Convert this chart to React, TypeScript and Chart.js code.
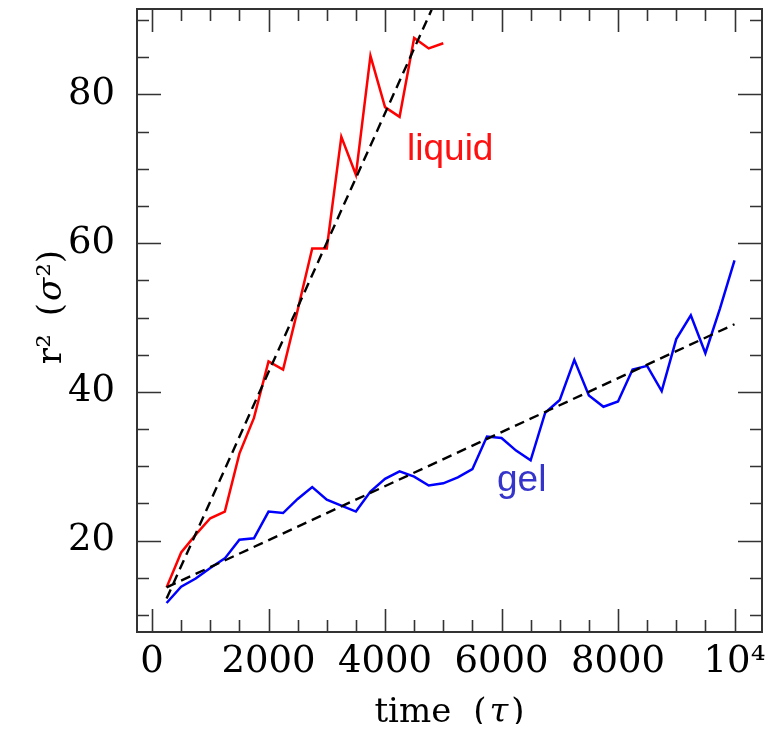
import React, { useEffect, useRef } from "react";
import { Chart, registerables } from "chart.js";

Chart.register(...registerables);

// ---- data ----
const liquidTime = [250, 500, 750, 1000, 1250, 1500, 1750, 2000, 2250, 2500, 2750, 3000, 3250, 3500, 3750, 4000, 4250, 4500, 4750, 5000];
const liquidR2 = [13.7, 18.4, 20.8, 23.0, 23.9, 31.7, 36.5, 44.1, 43.0, 51.0, 59.3, 59.3, 74.3, 69.2, 85.2, 78.3, 77.0, 87.6, 86.2, 86.9];

const gelTime = [250, 500, 750, 1000, 1250, 1500, 1750, 2000, 2250, 2500, 2750, 3000, 3250, 3500, 3750, 4000, 4250, 4500, 4750, 5000,
  5250, 5500, 5750, 6000, 6250, 6500, 6750, 7000, 7250, 7500, 7750, 8000, 8250, 8500, 8750, 9000, 9250, 9500, 9750, 10000];
const gelR2 = [11.6, 13.8, 14.9, 16.3, 17.6, 20.1, 20.3, 23.9, 23.7, 25.6, 27.2, 25.5, 24.7, 23.9, 26.6, 28.3, 29.3, 28.6, 27.4, 27.7,
  28.5, 29.6, 34.0, 33.8, 32.1, 30.8, 37.2, 38.9, 44.3, 39.5, 38.0, 38.7, 43.0, 43.5, 40.1, 47.1, 50.3, 45.2, 51.2, 57.7];

const liquidFitTime = [250, 4800];
const liquidFitR2 = [12.2, 91.4];
const gelFitTime = [250, 10000];
const gelFitR2 = [13.7, 49.1];

const xTickValues = [0, 2000, 4000, 6000, 8000, 10000];
const xTickLabels = ["0", "2000", "4000", "6000", "8000", "10\u2074"];
const yTickValues = [20, 40, 60, 80];
const yTickLabels = ["20", "40", "60", "80"];

const labelLiquid = { text: "liquid", t: 4378, r2: 71.2 };
const labelGel = { text: "gel", t: 5923, r2: 26.6 };

const X_MIN = -258;
const X_MAX = 10472;
const Y_MIN = 7.7;
const Y_MAX = 91.5;

const SERIF = "'DejaVu Serif', serif";
const SANS = "'Liberation Sans', Arial, sans-serif";

const pts = (xs: number[], ys: number[]) => xs.map((x, i) => ({ x, y: ys[i] }));

const zeroPad = (s: any) => {
  s.paddingTop = 0;
  s.paddingBottom = 0;
  s.paddingLeft = 0;
  s.paddingRight = 0;
};

const framePlugin = {
  id: "frameAndText",
  afterDatasetsDraw(chart: any) {
    const { ctx, chartArea, scales } = chart;
    const { left, right, top, bottom } = chartArea;
    const x = scales.x;
    const y = scales.y;
    ctx.save();
    ctx.strokeStyle = "#333";
    ctx.lineWidth = 1.6;
    ctx.beginPath();
    for (let v = 0; v <= 10000; v += 500) {
      const px = Math.round(x.getPixelForValue(v)) + 0.5;
      const len = v % 2000 === 0 ? 23 : 12;
      ctx.moveTo(px, bottom);
      ctx.lineTo(px, bottom - len);
      ctx.moveTo(px, top);
      ctx.lineTo(px, top + len);
    }
    for (let v = 10; v <= 90; v += 5) {
      const py = Math.round(y.getPixelForValue(v)) + 0.5;
      const len = v % 20 === 0 ? 24 : 12;
      ctx.moveTo(left, py);
      ctx.lineTo(left + len, py);
      ctx.moveTo(right, py);
      ctx.lineTo(right - len, py);
    }
    ctx.stroke();
    ctx.lineWidth = 2;
    ctx.strokeRect(left, top, right - left, bottom - top);

    // series labels
    ctx.font = `37px ${SANS}`;
    ctx.textAlign = "left";
    ctx.textBaseline = "alphabetic";
    ctx.fillStyle = "#ff1010";
    ctx.fillText(labelLiquid.text, x.getPixelForValue(labelLiquid.t), y.getPixelForValue(labelLiquid.r2));
    ctx.fillStyle = "#3535cc";
    ctx.fillText(labelGel.text, x.getPixelForValue(labelGel.t), y.getPixelForValue(labelGel.r2));
    ctx.restore();
  },
  afterDraw(chart: any) {
    const { ctx, chartArea } = chart;
    const { left, right, bottom } = chartArea;
    ctx.save();
    ctx.fillStyle = "#000";
    ctx.textBaseline = "alphabetic";
    ctx.textAlign = "left";
    // x title: time (τ)
    const up = `34px ${SERIF}`;
    const it = `italic 34px ${SERIF}`;
    const parts = [
      { s: "time", f: up, gap: 22 },
      { s: "(", f: up, gap: 3 },
      { s: "\u03C4", f: it, gap: 3 },
      { s: ")", f: up, gap: 0 },
    ];
    const widths = parts.map((p) => { ctx.font = p.f; return ctx.measureText(p.s).width; });
    const total = widths.reduce((a, b, i) => a + b + parts[i].gap, 0);
    let cx = (left + right) / 2 - total / 2;
    const by = bottom + 90;
    parts.forEach((p, i) => { ctx.font = p.f; ctx.fillText(p.s, cx, by); cx += widths[i] + p.gap; });

    // y title: r² (σ²)
    const yparts = [
      { s: "r\u00B2", f: up, gap: 18 },
      { s: "(", f: up, gap: 2 },
      { s: "\u03C3", f: it, gap: 1 },
      { s: "\u00B2)", f: up, gap: 0 },
    ];
    const yw = yparts.map((p) => { ctx.font = p.f; return ctx.measureText(p.s).width; });
    const ytot = yw.reduce((a, b, i) => a + b + yparts[i].gap, 0);
    const centerY = 299;
    ctx.translate(53, centerY);
    ctx.rotate(-Math.PI / 2);
    let cy = -ytot / 2;
    yparts.forEach((p, i) => { ctx.font = p.f; ctx.fillText(p.s, cy, 0); cy += yw[i] + p.gap; });
    ctx.restore();
  },
};

export default function App() {
  const ref = useRef<HTMLCanvasElement | null>(null);
  useEffect(() => {
    if (!ref.current) return;
    const chart = new Chart(ref.current, {
      type: "line",
      data: {
        datasets: [
          { data: pts(liquidFitTime, liquidFitR2), borderColor: "#000", borderWidth: 2.4, borderDash: [10, 6], pointRadius: 0, fill: false },
          { data: pts(gelFitTime, gelFitR2), borderColor: "#000", borderWidth: 2.4, borderDash: [10, 6], pointRadius: 0, fill: false },
          { data: pts(liquidTime, liquidR2), borderColor: "#ff0000", borderWidth: 2.5, pointRadius: 0, fill: false },
          { data: pts(gelTime, gelR2), borderColor: "#0000ff", borderWidth: 2.5, pointRadius: 0, fill: false },
        ],
      },
      options: {
        animation: false,
        responsive: false,
        events: [],
        layout: { padding: { left: 0, right: 3, top: 1, bottom: 0 } },
        plugins: { legend: { display: false }, tooltip: { enabled: false } },
        elements: { line: { tension: 0 } },
        scales: {
          x: {
            type: "linear",
            min: X_MIN,
            max: X_MAX,
            grid: { display: false, drawTicks: false },
            border: { display: false },
            afterBuildTicks: (s: any) => { s.ticks = xTickValues.map((v) => ({ value: v })); },
            afterFit: (s: any) => { s.height = 92; zeroPad(s); },
            ticks: {
              autoSkip: false,
              maxRotation: 0,
              padding: 8,
              color: "#000",
              font: { family: SERIF, size: 37 },
              callback: (v: any) => { const i = xTickValues.indexOf(Number(v)); return i >= 0 ? xTickLabels[i] : ""; },
            },
          },
          y: {
            type: "linear",
            min: Y_MIN,
            max: Y_MAX,
            grid: { display: false, drawTicks: false },
            border: { display: false },
            afterBuildTicks: (s: any) => { s.ticks = yTickValues.map((v) => ({ value: v })); },
            afterFit: (s: any) => { s.width = 129; zeroPad(s); },
            ticks: {
              autoSkip: false,
              padding: 22,
              color: "#000",
              font: { family: SERIF, size: 37 },
              callback: (v: any) => { const i = yTickValues.indexOf(Number(v)); return i >= 0 ? yTickLabels[i] : ""; },
            },
          },
        },
      },
      plugins: [framePlugin],
    } as any);
    return () => chart.destroy();
  }, []);
  return (
    <div style={{ width: 757, height: 716 }}>
      <canvas ref={ref} width={757} height={716} style={{ display: "block" }} />
    </div>
  );
}
